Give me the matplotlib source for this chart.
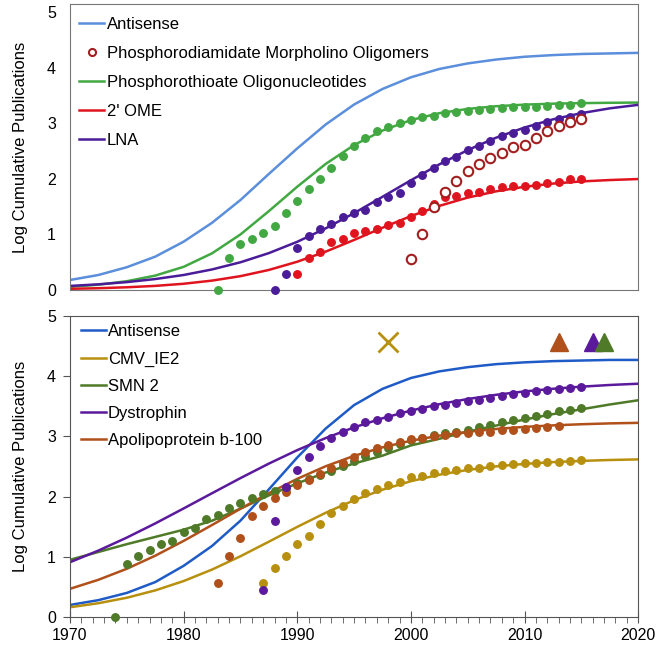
import numpy as np
import matplotlib.pyplot as plt

plt.rcParams['font.family'] = ['Liberation Sans', 'DejaVu Sans']

# fitted curves, sampled from the figure every 2.5 years
fit_years = np.arange(1970, 2020.1, 2.5)

top_antisense_fit = [0.18, 0.27, 0.41, 0.60, 0.87, 1.21, 1.62, 2.09, 2.55, 2.98, 3.34,
                     3.62, 3.83, 3.98, 4.08, 4.15, 4.20, 4.23, 4.25, 4.26, 4.27]
top_ps_fit = [0.057, 0.095, 0.158, 0.259, 0.417, 0.660, 1.000, 1.420, 1.860, 2.270, 2.610,
              2.871, 3.060, 3.184, 3.261, 3.309, 3.338, 3.355, 3.365, 3.371, 3.375]
top_ome_fit = [0.021, 0.032, 0.049, 0.074, 0.112, 0.169, 0.249, 0.361, 0.509, 0.691, 0.901,
               1.121, 1.331, 1.515, 1.664, 1.777, 1.859, 1.916, 1.955, 1.980, 1.998]
top_lna_fit = [0.073, 0.102, 0.142, 0.197, 0.270, 0.370, 0.499, 0.664, 0.868, 1.110, 1.384,
               1.678, 1.976, 2.262, 2.520, 2.743, 2.926, 3.073, 3.185, 3.271, 3.334]

bot_antisense_fit = [0.20, 0.28, 0.40, 0.58, 0.85, 1.18, 1.60, 2.12, 2.65, 3.13, 3.52,
                     3.79, 3.97, 4.08, 4.15, 4.20, 4.23, 4.25, 4.26, 4.27, 4.27]
bot_cmv_fit = [0.162, 0.229, 0.320, 0.442, 0.597, 0.788, 1.009, 1.251, 1.497, 1.731, 1.940,
               2.115, 2.256, 2.364, 2.443, 2.502, 2.543, 2.573, 2.593, 2.608, 2.618]
bot_smn_fit = [0.95, 1.08, 1.21, 1.33, 1.45, 1.60, 1.80, 2.02, 2.22, 2.40, 2.55,
               2.68, 2.85, 2.96, 3.08, 3.18, 3.28, 3.37, 3.45, 3.53, 3.60]
bot_dys_fit = [0.910, 1.103, 1.319, 1.554, 1.803, 2.056, 2.307, 2.548, 2.772, 2.972, 3.150,
               3.301, 3.429, 3.535, 3.621, 3.691, 3.747, 3.791, 3.826, 3.854, 3.875]
bot_apob_fit = [0.468, 0.618, 0.801, 1.018, 1.264, 1.528, 1.798, 2.057, 2.295, 2.504, 2.677,
                2.818, 2.928, 3.012, 3.076, 3.123, 3.158, 3.183, 3.202, 3.216, 3.225]

# yearly data points
ps_years = np.arange(1983, 2016)
ps_vals = [0.0, 0.58, 0.83, 0.92, 1.02, 1.16, 1.38, 1.61, 1.81, 2.00, 2.19, 2.41, 2.60, 2.74,
           2.87, 2.94, 3.01, 3.06, 3.11, 3.14, 3.18, 3.21, 3.22, 3.24, 3.26, 3.27, 3.29, 3.30,
           3.30, 3.32, 3.34, 3.34, 3.36]
lna_years = np.arange(1988, 2016)
lna_vals = [0.0, 0.28, 0.75, 0.97, 1.09, 1.18, 1.31, 1.38, 1.44, 1.58, 1.68, 1.75, 1.92, 2.07,
            2.19, 2.32, 2.40, 2.52, 2.60, 2.69, 2.77, 2.83, 2.89, 2.95, 3.02, 3.08, 3.12, 3.17]
ome_years = np.arange(1990, 2016)
ome_vals = [0.28, 0.58, 0.68, 0.87, 0.92, 1.02, 1.06, 1.09, 1.17, 1.20, 1.31, 1.43, 1.55, 1.67,
            1.70, 1.74, 1.77, 1.82, 1.85, 1.87, 1.88, 1.89, 1.93, 1.95, 1.99, 2.00]
pmo_years = np.arange(2000, 2016)
pmo_vals = [0.56, 1.01, 1.50, 1.77, 1.96, 2.14, 2.27, 2.37, 2.47, 2.57, 2.61, 2.74, 2.87,
            2.96, 3.02, 3.08]

smn_years = np.arange(1974, 2016)
smn_vals = [0.0, 0.875, 1.01, 1.12, 1.21, 1.27, 1.41, 1.48, 1.62, 1.69, 1.81, 1.89, 1.97, 2.05,
            2.10, 2.15, 2.22, 2.29, 2.36, 2.43, 2.51, 2.59, 2.67, 2.74, 2.80, 2.87, 2.94, 2.97,
            3.02, 3.06, 3.08, 3.11, 3.15, 3.19, 3.24, 3.27, 3.31, 3.34, 3.38, 3.42, 3.44, 3.47]
dys_years = np.arange(1987, 2016)
dys_vals = [0.45, 1.60, 2.16, 2.45, 2.66, 2.84, 2.97, 3.08, 3.16, 3.24, 3.28, 3.33, 3.39, 3.42,
            3.46, 3.50, 3.52, 3.55, 3.58, 3.61, 3.64, 3.67, 3.70, 3.72, 3.75, 3.77, 3.79, 3.80,
            3.82]
apob_years = np.arange(1983, 2014)
apob_vals = [0.57, 1.01, 1.32, 1.67, 1.84, 1.97, 2.08, 2.19, 2.28, 2.38, 2.48, 2.56, 2.65, 2.74,
             2.80, 2.85, 2.91, 2.95, 2.98, 3.01, 3.03, 3.05, 3.06, 3.07, 3.08, 3.10, 3.11, 3.13,
             3.14, 3.16, 3.17]
cmv_years = np.arange(1987, 2016)
cmv_vals = [0.57, 0.82, 1.01, 1.21, 1.34, 1.55, 1.73, 1.84, 1.96, 2.06, 2.12, 2.20, 2.25, 2.32,
            2.35, 2.40, 2.43, 2.45, 2.47, 2.48, 2.50, 2.52, 2.54, 2.55, 2.56, 2.57, 2.58, 2.59,
            2.60]

# approval markers
approval_level = 4.57
cmv_approval = 1998
apob_approval = 2013
dys_approval = 2016
smn_approval = 2017

# colours
c_blue_light = "#5B8FDB"
c_green = "#42A842"
c_red = "#E0141E"
c_purple = "#4B1C98"
c_pmo = "#A31F1F"
c_blue = "#1F5BC6"
c_cmv = "#B8900F"
c_smn = "#4F7A28"
c_dys = "#5B1A9C"
c_apob = "#B0501A"

fig = plt.figure(figsize=(6.6, 6.45), dpi=100)
ax_top = fig.add_axes([0.106, 0.5504, 0.861, 0.4434])
ax_bot = fig.add_axes([0.106, 0.0434, 0.861, 0.4667])

lw = 1.8
ms = 5.4

# --- top panel
ax_top.plot(fit_years, top_antisense_fit, color=c_blue_light, lw=lw, label="Antisense")
ax_top.plot(pmo_years, pmo_vals, 'o', mfc='white', mec=c_pmo, mew=1.5, ms=6.8,
            label="Phosphorodiamidate Morpholino Oligomers", clip_on=False, zorder=4)
ax_top.plot(fit_years, top_ps_fit, color=c_green, lw=lw, label="Phosphorothioate Oligonucleotides")
ax_top.plot(fit_years, top_ome_fit, color=c_red, lw=lw, label="2' OME")
ax_top.plot(fit_years, top_lna_fit, color=c_purple, lw=lw, label="LNA")
ax_top.plot(ps_years, ps_vals, 'o', color=c_green, ms=ms, clip_on=False, zorder=3)
ax_top.plot(lna_years, lna_vals, 'o', color=c_purple, ms=ms, clip_on=False, zorder=3)
ax_top.plot(ome_years, ome_vals, 'o', color=c_red, ms=ms, clip_on=False, zorder=3)

ax_top.set_xlim(1970, 2020)
ax_top.set_ylim(0, 5.15)
ax_top.set_xticks([])
ax_top.set_yticks([0, 1, 2, 3, 4, 5])
ax_top.tick_params(axis='y', length=0, labelsize=11.5, pad=10)
ax_top.set_ylabel("Log Cumulative Publications", fontsize=12, labelpad=14)
for sp in ax_top.spines.values():
    sp.set_color("#777777")
ax_top.legend(loc='upper left', bbox_to_anchor=(-0.007, 1), frameon=False, fontsize=12,
              handlelength=1.5, handletextpad=0.15, borderaxespad=0.5, borderpad=0.3,
              labelspacing=0.83, markerscale=0.75)

# --- bottom panel
ax_bot.plot(fit_years, bot_antisense_fit, color=c_blue, lw=lw, label="Antisense")
ax_bot.plot(fit_years, bot_cmv_fit, color=c_cmv, lw=lw, label="CMV_IE2")
ax_bot.plot(fit_years, bot_smn_fit, color=c_smn, lw=lw, label="SMN 2")
ax_bot.plot(fit_years, bot_dys_fit, color=c_dys, lw=lw, label="Dystrophin")
ax_bot.plot(fit_years, bot_apob_fit, color=c_apob, lw=lw, label="Apolipoprotein b-100")
ax_bot.plot(smn_years, smn_vals, 'o', color=c_smn, ms=ms, clip_on=False, zorder=3)
ax_bot.plot(apob_years, apob_vals, 'o', color=c_apob, ms=ms, clip_on=False, zorder=3)
ax_bot.plot(cmv_years, cmv_vals, 'o', color=c_cmv, ms=ms, clip_on=False, zorder=3)
ax_bot.plot(dys_years, dys_vals, 'o', color=c_dys, ms=ms, clip_on=False, zorder=3)

ax_bot.plot([cmv_approval], [approval_level], 'x', color=c_cmv, ms=14, mew=2)
ax_bot.plot([apob_approval], [approval_level], '^', color=c_apob, ms=12.5)
ax_bot.plot([dys_approval], [approval_level], '^', color=c_dys, ms=12.5)
ax_bot.plot([smn_approval], [approval_level], '^', color=c_smn, ms=12.5)

ax_bot.set_xlim(1970, 2020)
ax_bot.set_ylim(0, 5)
ax_bot.set_xticks(np.arange(1970, 2021, 10))
ax_bot.set_xticks(np.arange(1970, 2021, 1), minor=True)
ax_bot.set_yticks([0, 1, 2, 3, 4, 5])
ax_bot.tick_params(axis='x', which='major', direction='inout', length=9, labelsize=11.5,
                   color="#555555")
ax_bot.tick_params(axis='x', which='minor', direction='out', length=4, color="#555555")
ax_bot.tick_params(axis='y', direction='out', length=5, labelsize=11.5, color="#555555",
                   pad=5)
ax_bot.set_ylabel("Log Cumulative Publications", fontsize=12, labelpad=14)
for sp in ax_bot.spines.values():
    sp.set_color("#555555")
ax_bot.legend(loc='upper left', bbox_to_anchor=(0.004, 1), frameon=False, fontsize=12,
              handlelength=1.5, handletextpad=0.15, borderaxespad=0.2, borderpad=0.3,
              labelspacing=0.73)

fig.savefig("out.png", dpi=100)
